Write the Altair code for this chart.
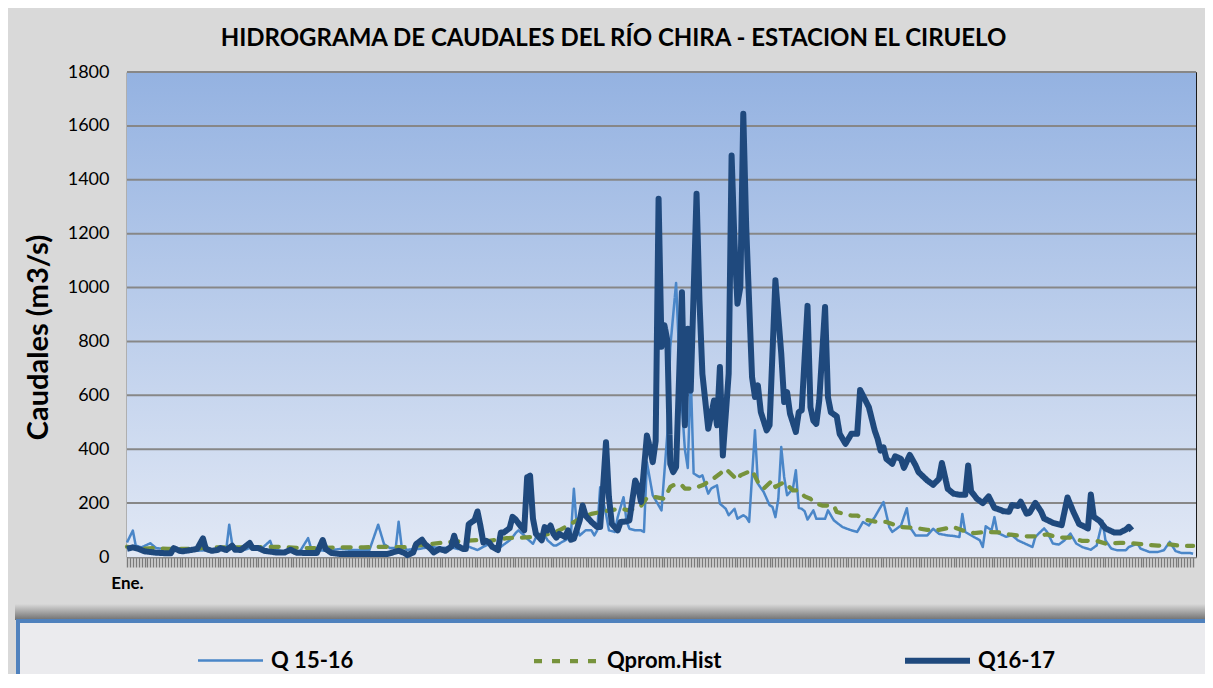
import altair as alt
import pandas as pd

# ---------------- data ----------------
series_names = ["Q 15-16", "Qprom.Hist", "Q16-17"]

q1516_dias = [0, 2, 3, 5, 8, 10, 13, 16, 19, 22, 24, 34, 35, 36, 37, 39, 43, 46, 49, 50, 53, 59, 62, 63, 65, 68,
              73, 77, 83, 86, 88, 90, 92, 93, 94, 96, 98, 100, 104, 107, 111, 113, 115, 117, 120, 122, 124, 125,
              128, 130, 131, 132, 133, 134, 136, 137, 139, 140, 141, 143, 144, 146, 147, 149, 151, 152, 153, 154,
              155, 157, 159, 160, 161, 162, 164, 165, 167, 168, 170, 171, 172, 174, 176, 177, 178, 180, 182, 183,
              185, 186, 188, 189, 190, 191, 192, 193, 194, 196, 197, 199, 200, 202, 203, 205, 206, 208, 209, 211,
              212, 213, 215, 216, 218, 220, 221, 222, 223, 224, 225, 226, 228, 229, 230, 231, 232, 233, 235, 236,
              239, 240, 242, 245, 248, 250, 252, 254, 256, 259, 261, 262, 265, 267, 268, 270, 274, 276, 278, 281,
              283, 285, 286, 287, 290, 292, 293, 294, 296, 297, 298, 301, 303, 305, 307, 310, 311, 314, 315, 317,
              319, 321, 323, 325, 327, 330, 332, 334, 335, 337, 339, 342, 343, 346, 347, 350, 353, 355, 357, 359,
              361, 364, 365]
q1516_vals = [54, 98, 42, 36, 51, 33, 30, 30, 23, 23, 23, 30, 120, 48, 36, 23, 36, 30, 60, 30, 21, 17, 70, 33, 26, 23,
              30, 26, 26, 120, 48, 33, 33, 131, 42, 26, 30, 30, 38, 33, 36, 30, 30, 38, 26, 38, 48, 36,
              38, 54, 62, 73, 88, 99, 80, 68, 49, 72, 86, 80, 62, 43, 43, 56, 68, 86, 253, 111,
              80, 99, 99, 80, 99, 259, 160, 99, 93, 148, 222, 136, 105, 99, 99, 93, 352, 229, 192, 173,
              457, 779, 1017, 760, 560, 400, 330, 680, 310, 297, 303, 235, 254, 266, 198, 179, 155, 179, 142, 155,
              148, 130, 470, 272, 241, 192, 186, 148, 216, 408, 297, 229, 254, 322, 182, 179, 170, 139, 173, 142,
              142, 173, 136, 111, 99, 93, 130, 117, 148, 204, 111, 93, 117, 181, 111, 80, 80, 105, 86, 80,
              78, 74, 160, 93, 74, 62, 37, 114, 99, 148, 90, 75, 81, 62, 52, 37, 75, 106, 93, 50,
              46, 62, 87, 50, 37, 27, 43, 134, 62, 31, 25, 25, 37, 50, 31, 19, 19, 25, 56, 22,
              15, 15, 12]

qprom_dias = [0, 5, 9, 14, 22, 29, 34, 39, 45, 52, 59, 65, 73, 81, 89, 96, 102, 109, 115, 120, 124, 130, 135, 138,
              141, 145, 148, 152, 155, 159, 162, 165, 169, 172, 176, 178, 181, 184, 186, 188, 190, 191, 194, 197,
              200, 203, 205, 209, 210, 214, 216, 218, 221, 222, 225, 228, 230, 232, 234, 235, 238, 242, 243, 248,
              250, 253, 257, 260, 265, 269, 274, 278, 283, 286, 290, 294, 299, 302, 307, 311, 315, 319, 323, 327,
              332, 335, 340, 343, 348, 353, 357, 361, 365]
qprom_vals = [38, 30, 33, 30, 30, 36, 36, 36, 36, 38, 33, 33, 36, 36, 38, 36, 46, 54, 60, 63, 60, 70, 72, 74,
              80, 86, 99, 123, 142, 160, 167, 173, 179, 173, 190, 220, 222, 216, 260, 272, 266, 254, 254, 266,
              285, 309, 328, 285, 303, 322, 278, 254, 285, 260, 278, 247, 247, 225, 216, 204, 191, 191, 167, 154,
              154, 138, 130, 130, 111, 109, 101, 101, 111, 99, 89, 93, 91, 84, 77, 77, 84, 72, 72, 60,
              60, 50, 52, 52, 47, 42, 47, 41, 41]

q1617_dias = [0, 2, 4, 6, 10, 13, 15, 16, 18, 19, 22, 24, 26, 27, 29, 31, 32, 34, 36, 37, 39, 42, 43, 45, 47, 51,
              54, 56, 58, 61, 65, 67, 68, 70, 73, 77, 83, 89, 91, 93, 95, 96, 98, 99, 101, 102, 104, 105, 107,
              109, 111, 112, 113, 115, 116, 117, 119, 120, 121, 122, 123, 124, 125, 127, 128, 129, 131, 132, 133,
              135, 136, 137, 138, 139, 140, 142, 143, 144, 145, 146, 147, 148, 150, 151, 152, 153, 155, 156, 157,
              159, 161, 162, 163, 164, 165, 166, 168, 169, 171, 172, 174, 175, 176, 178, 179, 180, 181, 182, 183,
              184, 185, 186, 187, 188, 190, 191, 192, 193, 195, 196, 197, 199, 201, 202, 203, 204, 206, 207, 208,
              209, 210, 211, 212, 214, 215, 216, 217, 219, 220, 222, 224, 225, 226, 227, 229, 230, 231, 233, 234,
              235, 236, 237, 239, 240, 241, 243, 244, 246, 248, 250, 251, 254, 256, 257, 258, 259, 260, 262, 263,
              265, 266, 268, 270, 271, 274, 276, 278, 279, 281, 283, 285, 287, 288, 289, 291, 293, 295, 297, 299,
              300, 302, 303, 305, 306, 308, 309, 311, 313, 314, 317, 320, 322, 324, 326, 328, 329, 330, 331, 333,
              335, 338, 340, 342, 343, 344]
q1617_vals = [30, 36, 30, 21, 16, 14, 14, 33, 23, 21, 26, 30, 69, 30, 23, 26, 33, 26, 42, 27, 26, 52, 33, 33, 23, 17,
              17, 27, 16, 15, 15, 63, 30, 15, 11, 11, 11, 11, 17, 23, 15, 7, 17, 48, 64, 48, 30, 17, 30,
              23, 38, 79, 42, 30, 30, 122, 137, 169, 116, 54, 60, 54, 38, 26, 91, 91, 107, 149, 140,
              111, 99, 296, 302, 142, 86, 62, 111, 99, 117, 86, 72, 86, 74, 99, 64, 68, 136, 191, 154,
              130, 111, 111, 259, 426, 222, 123, 99, 130, 132, 136, 284, 259, 204, 451, 407, 352, 430, 1330, 780,
              860, 804, 346, 315, 334, 983, 489, 847, 618, 1348, 952, 680, 476, 581, 489, 705, 377, 680, 1490, 1163,
              940, 1002, 1645, 1225, 668, 594, 637, 538, 470, 489, 1027, 755, 575, 612, 532, 464, 538, 544, 932, 556,
              506, 494, 580, 928, 593, 537, 522, 457, 420, 457, 457, 620, 556, 469, 438, 395, 407, 364, 346, 374,
              364, 331, 379, 340, 315, 284, 268, 290, 349, 253, 235, 231, 231, 340, 244, 216, 200, 225, 182, 175,
              170, 168, 193, 189, 205, 161, 164, 201, 168, 143, 127, 118, 221, 168, 122, 112, 106, 232, 149, 134,
              106, 91, 91, 102, 112, 99]

y_ticks = [0, 200, 400, 600, 800, 1000, 1200, 1400, 1600, 1800]

# ---------------- table ----------------
frames = []
for name, d, v in [(series_names[0], q1516_dias, q1516_vals),
                   (series_names[1], qprom_dias, qprom_vals),
                   (series_names[2], q1617_dias, q1617_vals)]:
    frames.append(pd.DataFrame({"Dia": d, "Caudal": v, "Serie": name}))
df = pd.concat(frames, ignore_index=True)
grid_df = pd.DataFrame({"Caudal": y_ticks[1:]})

W, H = 1069, 485
FONT = "Lato"

x_enc = alt.X("Dia:Q",
              scale=alt.Scale(domain=[0, 366], nice=False, zero=False),
              axis=alt.Axis(values=list(range(0, 366)),
                            labelExpr="datum.value == 0 ? 'Ene.' : ''",
                            labelOverlap=False, labelFlush=False,
                            tickSize=10, tickColor="#7a7a7a", tickWidth=1.4,
                            domainColor="#8c8c8c", domainWidth=2, grid=False,
                            labelFont=FONT, labelFontSize=17, labelFontWeight="bold",
                            labelColor="black", labelPadding=8, title=None))

y_enc = alt.Y("Caudal:Q",
              scale=alt.Scale(domain=[0, 1800], nice=False),
              axis=alt.Axis(values=y_ticks, format="d", grid=False, ticks=False,
                            domainColor="#868686", domainWidth=2,
                            labelFont=FONT, labelFontSize=18, labelColor="black",
                            labelPadding=18,
                            title="Caudales (m3/s)", titleFont=FONT, titleFontSize=29,
                            titleFontWeight="bold", titleColor="black", titleAngle=270,
                            titleX=-89, titleY=265, titleAlign="center",
                            titleBaseline="middle"))

legend = alt.Legend(orient="none", legendX=68, legendY=553, direction="horizontal",
                    columns=3, title=None, symbolType="stroke", symbolSize=4225,
                    labelFont=FONT, labelFontSize=22, labelFontWeight="bold",
                    labelColor="black", labelOffset=5, columnPadding=171, padding=0)

color_enc = alt.Color("Serie:N",
                      scale=alt.Scale(domain=series_names,
                                      range=["#4a86c8", "#77933c", "#1f497d"]),
                      legend=legend)
dash_enc = alt.StrokeDash("Serie:N",
                          scale=alt.Scale(domain=series_names,
                                          range=[[1, 0], [8, 10], [1, 0]]),
                          legend=legend)
width_enc = alt.StrokeWidth("Serie:N",
                            scale=alt.Scale(domain=series_names, range=[2.5, 6, 4.5]),
                            legend=legend)

one = pd.DataFrame({"k": [0]})

background = alt.Chart(one).mark_rect(
    color=alt.LinearGradient(gradient="linear",
                             stops=[alt.GradientStop(offset=0, color="#94b2e1"),
                                    alt.GradientStop(offset=1, color="#e1e8f5")],
                             x1=0, x2=0, y1=0, y2=1)
).encode(x=alt.value(0), x2=alt.value(W), y=alt.value(0), y2=alt.value(H))

shadow = alt.Chart(one).mark_rect(
    color=alt.LinearGradient(gradient="linear",
                             stops=[alt.GradientStop(offset=0, color="#d9d9d9"),
                                    alt.GradientStop(offset=1, color="#707070")],
                             x1=0, x2=0, y1=0, y2=1)
).encode(x=alt.value(-112), x2=alt.value(W + 20), y=alt.value(532), y2=alt.value(548))

legend_box = alt.Chart(one).mark_rect(
    fill="#ebebee", stroke="#4f81bd", strokeWidth=4
).encode(x=alt.value(-109), x2=alt.value(W + 20), y=alt.value(549), y2=alt.value(H + 140))

grid = alt.Chart(grid_df).mark_rule(color="#878787", strokeWidth=2).encode(y=y_enc)

layers = []
for name in series_names:
    extra = {"strokeCap": "round"} if name == "Qprom.Hist" else {}
    layers.append(
        alt.Chart(df).transform_filter(alt.datum.Serie == name)
        .mark_line(strokeJoin="round", **extra)
        .encode(x=x_enc, y=y_enc, color=color_enc, strokeDash=dash_enc,
                strokeWidth=width_enc, order="Dia:Q")
    )

chart = alt.layer(background, shadow, legend_box, grid, *layers).properties(
    width=W, height=H,
    background="#d9d9d9",
    padding={"left": 119, "top": 64, "right": 9, "bottom": 117},
    autosize=alt.AutoSizeParams(type="none"),
    title=alt.TitleParams("HIDROGRAMA DE CAUDALES DEL RÍO CHIRA - ESTACION EL CIRUELO",
                          font=FONT, fontSize=24, fontWeight="bold", color="black",
                          anchor="middle", dx=-48, offset=12)
).configure_view(stroke="#1a1a1a", strokeWidth=1)

chart.save("out.html", embed_options={"renderer": "svg", "actions": False})
